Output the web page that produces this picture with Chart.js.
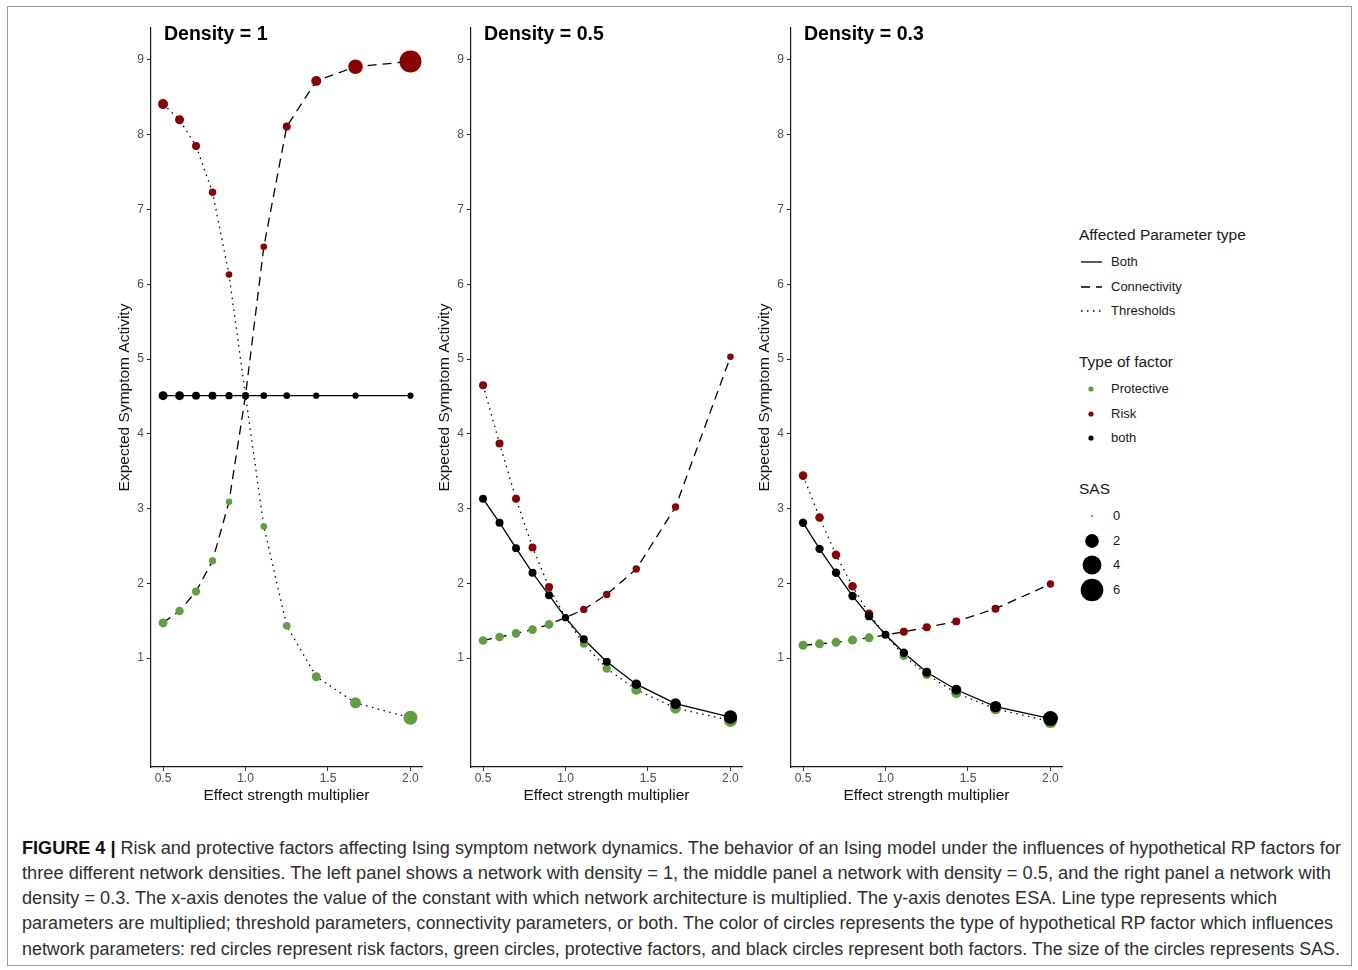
<!DOCTYPE html>
<html>
<head>
<meta charset="utf-8">
<script src="https://cdn.jsdelivr.net/npm/chart.js@4.4.1/dist/chart.umd.min.js"></script>
<style>
  body { margin: 0; background: #fff; font-family: "Liberation Sans", Arial, Helvetica, sans-serif; }
  #frame { position: absolute; left: 7px; top: 6px; width: 1345px; height: 960px; border: 1px solid #9a9a9a; box-sizing: border-box; }
  .panel { position: absolute; top: 8px; }
  .lg { position: absolute; white-space: nowrap; color: #1a1a1a; }
  .lg svg { display: block; }
  .lg-title { font-size: 15.5px; line-height: 20px; }
  .lg-item { font-size: 13px; line-height: 16px; }
  .cap { position: absolute; left: 22px; font-size: 17.5px; line-height: 25px; color: #2e2e2e; white-space: nowrap; transform-origin: left center; }
  .cap b { color: #111; }
</style>
</head>
<body>
<div id="frame"></div>
<canvas id="p0" class="panel" width="320" height="802" style="left:105px"></canvas>
<canvas id="p1" class="panel" width="320" height="802" style="left:425px"></canvas>
<canvas id="p2" class="panel" width="320" height="802" style="left:745px"></canvas>

<div id="legend"></div>

<div class="cap" style="top:836px"><span><b>FIGURE 4 |</b> Risk and protective factors affecting Ising symptom network dynamics. The behavior of an Ising model under the influences of hypothetical RP factors for</span></div>
<div class="cap" style="top:861px"><span>three different network densities. The left panel shows a network with density = 1, the middle panel a network with density = 0.5, and the right panel a network with</span></div>
<div class="cap" style="top:886px"><span>density = 0.3. The x-axis denotes the value of the constant with which network architecture is multiplied. The y-axis denotes ESA. Line type represents which</span></div>
<div class="cap" style="top:911px"><span>parameters are multiplied; threshold parameters, connectivity parameters, or both. The color of circles represents the type of hypothetical RP factor which influences</span></div>
<div class="cap" style="top:937px"><span>network parameters: red circles represent risk factors, green circles, protective factors, and black circles represent both factors. The size of the circles represents SAS.</span></div>

<script>
// effect strength multipliers (x) and axis ticks
const xVals = [0.5, 0.6, 0.7, 0.8, 0.9, 1.0, 1.111, 1.25, 1.429, 1.667, 2.0];
const xTicks = [0.5, 1.0, 1.5, 2.0];
const yTicks = [1, 2, 3, 4, 5, 6, 7, 8, 9];
const densityLabels = ["Density = 1", "Density = 0.5", "Density = 0.3"];

// Expected Symptom Activity, density = 1
const thresholds1   = [8.41, 8.20, 7.85, 7.23, 6.13, 4.51, 2.76, 1.43, 0.75, 0.40, 0.20];
const connectivity1 = [1.47, 1.63, 1.89, 2.30, 3.09, 4.51, 6.50, 8.11, 8.72, 8.91, 8.98];
const both1         = [4.51, 4.51, 4.51, 4.51, 4.51, 4.51, 4.51, 4.51, 4.51, 4.51, 4.51];
// density = 0.5
const thresholds05   = [4.65, 3.87, 3.13, 2.48, 1.95, 1.54, 1.19, 0.86, 0.575, 0.33, 0.165];
const connectivity05 = [1.235, 1.28, 1.33, 1.38, 1.45, 1.54, 1.65, 1.85, 2.19, 3.02, 5.03];
const both05         = [3.13, 2.81, 2.47, 2.14, 1.84, 1.54, 1.25, 0.95, 0.65, 0.39, 0.21];
// density = 0.3
const thresholds03   = [3.44, 2.88, 2.38, 1.96, 1.59, 1.31, 1.03, 0.78, 0.53, 0.32, 0.15];
const connectivity03 = [1.17, 1.19, 1.21, 1.24, 1.27, 1.31, 1.35, 1.41, 1.49, 1.66, 1.99];
const both03         = [2.81, 2.46, 2.14, 1.83, 1.56, 1.31, 1.07, 0.81, 0.575, 0.35, 0.19];

// SAS (point size) per point
const sasThr1  = [0.95, 0.74, 0.55, 0.45, 0.34, 0.45, 0.34, 0.49, 0.74, 1.19, 2.08];
const sasCon1  = [0.74, 0.63, 0.55, 0.45, 0.34, 0.45, 0.34, 0.55, 0.95, 2.28, 5.63];
const sasBoth1 = [0.74, 0.74, 0.55, 0.55, 0.45, 0.45, 0.34, 0.34, 0.28, 0.28, 0.28];
const sasThr05  = [0.55, 0.55, 0.55, 0.55, 0.55, 0.55, 0.55, 0.66, 0.95, 1.19, 1.76];
const sasCon05  = [0.66, 0.66, 0.66, 0.66, 0.66, 0.55, 0.45, 0.45, 0.45, 0.45, 0.34];
const sasBoth05 = [0.55, 0.55, 0.55, 0.55, 0.55, 0.45, 0.55, 0.55, 0.85, 1.11, 1.90];
const sasThr03  = [0.66, 0.66, 0.66, 0.66, 0.66, 0.55, 0.66, 0.74, 0.95, 1.19, 1.76];
const sasCon03  = [0.74, 0.74, 0.74, 0.74, 0.74, 0.55, 0.55, 0.55, 0.55, 0.55, 0.45];
const sasBoth03 = [0.63, 0.63, 0.63, 0.63, 0.63, 0.55, 0.63, 0.74, 0.95, 1.30, 2.43];

const sasLegend = [0, 2, 4, 6];

const factorColors = { Protective: "#5fa03e", Risk: "#8b0000", both: "#000000" };
const lineTypes = { Both: [], Connectivity: [9, 6], Thresholds: [1.5, 4.5] };

Chart.defaults.font.family = '"Liberation Sans", Arial, Helvetica, sans-serif';

function sasRadius(s) { return 0.8 + 4.3 * Math.sqrt(s); }

function factorOf(type, x) {
  if (type === "both" || x === 1) return "both";
  if (type === "thr") return x < 1 ? "Risk" : "Protective";
  return x < 1 ? "Protective" : "Risk";
}

const panels = [
  { title: densityLabels[0], thr: thresholds1, con: connectivity1, both: both1, sThr: sasThr1, sCon: sasCon1, sBoth: sasBoth1 },
  { title: densityLabels[1], thr: thresholds05, con: connectivity05, both: both05, sThr: sasThr05, sCon: sasCon05, sBoth: sasBoth05 },
  { title: densityLabels[2], thr: thresholds03, con: connectivity03, both: both03, sThr: sasThr03, sCon: sasCon03, sBoth: sasBoth03 }
];

const panelTitle = {
  id: "panelTitle",
  afterDraw(chart, args, opts) {
    const { ctx, chartArea } = chart;
    ctx.save();
    ctx.font = 'bold 19.5px "Liberation Sans", Arial, sans-serif';
    ctx.fillStyle = "#000";
    ctx.textBaseline = "middle";
    ctx.fillText(opts.text, chartArea.left + 13, 26.5);
    ctx.restore();
  }
};

function lineSet(values, dash) {
  return {
    showLine: true,
    data: xVals.map((x, i) => ({ x: x, y: values[i] })),
    borderColor: "#000",
    borderWidth: 1.3,
    borderDash: dash,
    pointRadius: 0,
    order: 10
  };
}

function pointSet(p, factor, order) {
  const pts = [];
  [["thr", p.thr, p.sThr], ["con", p.con, p.sCon], ["both", p.both, p.sBoth]].forEach(([type, vals, sas]) => {
    xVals.forEach((x, i) => {
      if (type !== "both" && x === 1) return;
      if (factorOf(type, x) === factor) pts.push({ x: x, y: vals[i], sas: sas[i] });
    });
  });
  return {
    data: pts,
    backgroundColor: factorColors[factor],
    borderWidth: 0,
    pointRadius: ctx => ctx.raw ? sasRadius(ctx.raw.sas) : 3,
    order: order
  };
}

panels.forEach((p, k) => {
  new Chart(document.getElementById("p" + k), {
    type: "scatter",
    data: {
      datasets: [
        lineSet(p.thr, lineTypes.Thresholds),
        lineSet(p.con, lineTypes.Connectivity),
        lineSet(p.both, lineTypes.Both),
        pointSet(p, "Protective", 3),
        pointSet(p, "Risk", 2),
        pointSet(p, "both", 1)
      ]
    },
    options: {
      responsive: false,
      animation: false,
      layout: { autoPadding: false, padding: { top: 20, right: 3, bottom: 0, left: 0 } },
      plugins: {
        legend: { display: false },
        tooltip: { enabled: false },
        panelTitle: { text: p.title }
      },
      scales: {
        x: {
          type: "linear", min: 0.427, max: 2.07,
          afterBuildTicks: s => { s.ticks = xTicks.map(v => ({ value: v })); },
          afterFit: s => { s.height = 43; },
          ticks: { callback: v => v.toFixed(1), color: "#4d4d4d", font: { size: 12 }, padding: 0, maxRotation: 0, autoSkip: false },
          grid: { drawOnChartArea: false, tickLength: 4, color: "#333" },
          border: { color: "#1a1a1a", width: 1.2 },
          title: { display: true, text: "Effect strength multiplier", color: "#111", font: { size: 15.5 }, padding: { top: 0, bottom: 4.7 } }
        },
        y: {
          type: "linear", min: -0.458, max: 9.428,
          afterBuildTicks: s => { s.ticks = yTicks.map(v => ({ value: v })); },
          afterFit: s => { s.width = 46; },
          ticks: { callback: v => String(v), color: "#4d4d4d", font: { size: 12 }, padding: 3, autoSkip: false },
          grid: { drawOnChartArea: false, tickLength: 4, color: "#333" },
          border: { color: "#1a1a1a", width: 1.2 },
          title: { display: true, text: "Expected Symptom Activity", color: "#111", font: { size: 15.5 }, padding: { top: 10.4, bottom: 0 } }
        }
      }
    },
    plugins: [panelTitle]
  });
});

// legend (three guides)
const legend = document.getElementById("legend");
function addText(txt, left, cy, cls, h) {
  const d = document.createElement("div");
  d.className = "lg " + cls;
  d.style.left = left + "px";
  d.style.top = (cy - h / 2) + "px";
  d.textContent = txt;
  legend.appendChild(d);
}
function addSvg(left, cy, w, h, inner) {
  const d = document.createElement("div");
  d.className = "lg";
  d.style.left = left + "px";
  d.style.top = (cy - h / 2) + "px";
  d.innerHTML = '<svg width="' + w + '" height="' + h + '">' + inner + '</svg>';
  legend.appendChild(d);
}

addText("Affected Parameter type", 1079, 235, "lg-title", 20);
Object.keys(lineTypes).forEach((name, i) => {
  const cy = 262 + i * 24.5;
  const dash = lineTypes[name].length ? ' stroke-dasharray="' + lineTypes[name].join(",") + '"' : "";
  addSvg(1081, cy, 21, 6, '<line x1="0" y1="3" x2="21" y2="3" stroke="#000" stroke-width="1.3"' + dash + '/>');
  addText(name, 1111, cy, "lg-item", 16);
});

addText("Type of factor", 1079, 362, "lg-title", 20);
Object.keys(factorColors).forEach((name, i) => {
  const cy = 389 + i * 24.5;
  addSvg(1086, cy, 10, 10, '<circle cx="5" cy="5" r="2.6" fill="' + factorColors[name] + '"/>');
  addText(name, 1111, cy, "lg-item", 16);
});

addText("SAS", 1079, 489, "lg-title", 20);
sasLegend.forEach((v, i) => {
  const cy = 516 + i * 24.7;
  addSvg(1080, cy, 24, 24, '<circle cx="12" cy="12" r="' + sasRadius(v).toFixed(2) + '" fill="#000"/>');
  addText(String(v), 1113, cy, "lg-item", 16);
});

// fit caption lines to the reference line widths
const captionWidths = [1319, 1309, 1255, 1311, 1318];
document.querySelectorAll(".cap").forEach((el, i) => {
  const w = el.firstElementChild.getBoundingClientRect().width;
  el.style.transform = "scaleX(" + (captionWidths[i] / w).toFixed(4) + ")";
});
</script>
</body>
</html>
